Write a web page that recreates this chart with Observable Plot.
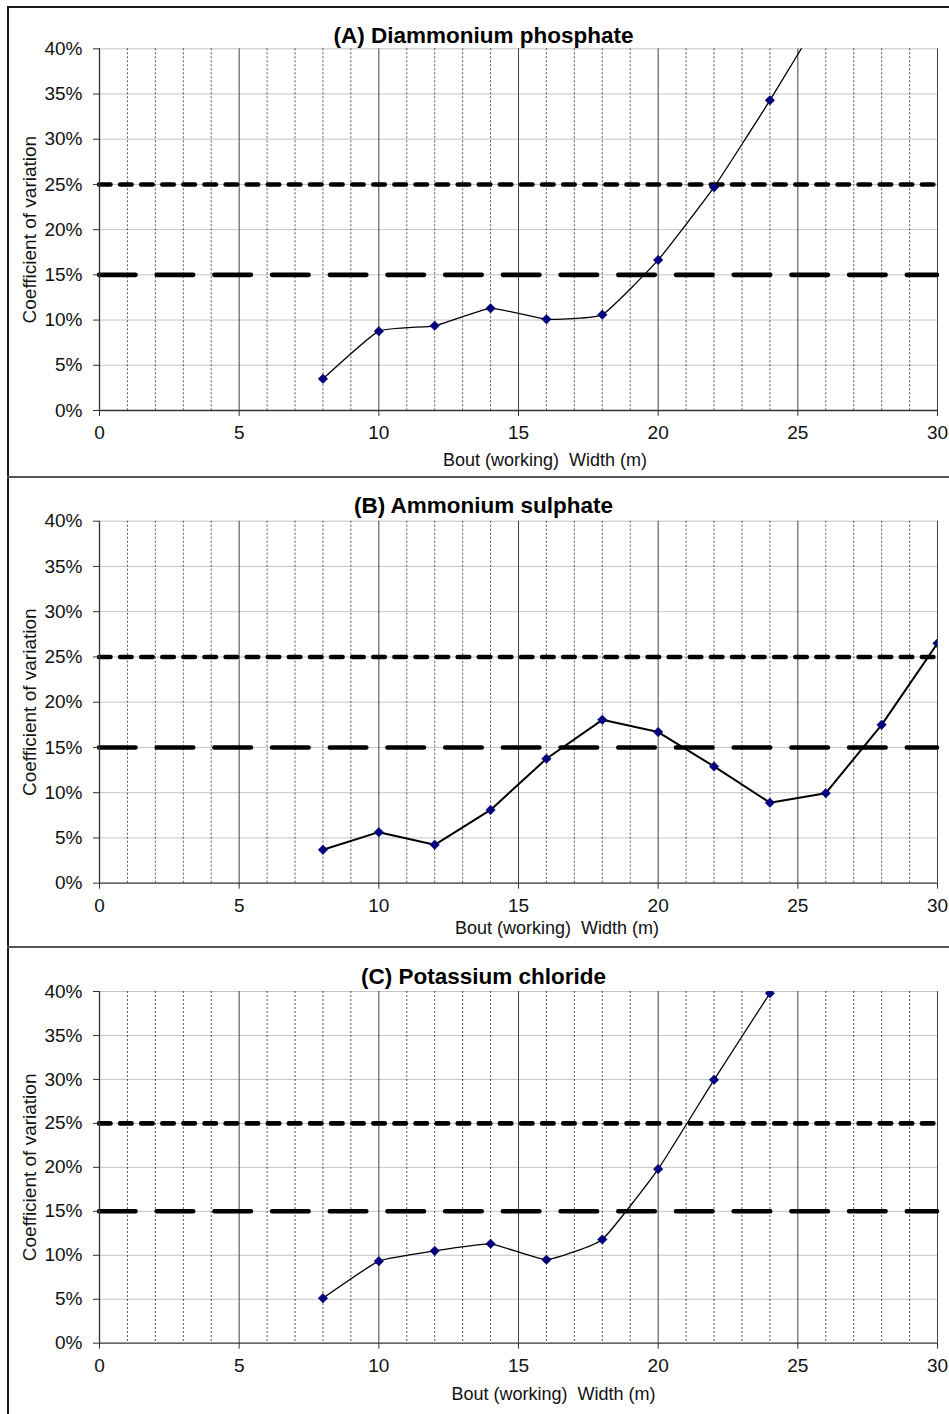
<!DOCTYPE html>
<html>
<head>
<meta charset="utf-8">
<script src="https://cdn.jsdelivr.net/npm/d3@7"></script>
<script src="https://cdn.jsdelivr.net/npm/@observablehq/plot@0.6"></script>
<style>
  html, body { margin: 0; padding: 0; background: #fff; }
  #page { position: relative; width: 949px; height: 1414px; overflow: hidden; background: #fff; font-family: "Liberation Sans", Arial, sans-serif; }
  .panel { position: absolute; left: 0; }
  .border { position: absolute; }
</style>
</head>
<body>
<div id="page"></div>
<script>
// ---- data ----
const widthsA = [8, 10, 12, 14, 16, 18, 20, 22, 24, 26];
const cvA     = [0.035, 0.0877, 0.0937, 0.113, 0.101, 0.106, 0.1665, 0.247, 0.343, 0.445];
const widthsB = [8, 10, 12, 14, 16, 18, 20, 22, 24, 26, 28, 30];
const cvB     = [0.037, 0.0564, 0.0424, 0.081, 0.1375, 0.1805, 0.167, 0.129, 0.089, 0.0995, 0.175, 0.265];
const widthsC = [8, 10, 12, 14, 16, 18, 20, 22, 24];
const cvC     = [0.0512, 0.0933, 0.105, 0.113, 0.095, 0.118, 0.198, 0.2996, 0.398];

const titles = ["(A) Diammonium phosphate", "(B) Ammonium sulphate", "(C) Potassium chloride"];
const xLabel = "Bout (working)  Width (m)";
const yLabel = "Coefficient of variation";
const xTicks = [0, 5, 10, 15, 20, 25, 30];
const xMinor = [1, 2, 3, 4, 6, 7, 8, 9, 11, 12, 13, 14, 16, 17, 18, 19, 21, 22, 23, 24, 26, 27, 28, 29];
const yTicks = [0, 0.05, 0.10, 0.15, 0.20, 0.25, 0.30, 0.35, 0.40];
const thresholds = [0.15, 0.25];

const page = document.getElementById("page");
const FONT = "'Liberation Sans', Arial, sans-serif";

function panel(cfg) {
  const data = cfg.x.map((x, i) => ({x, y: cfg.y[i]}));
  const svg = Plot.plot({
    width: 949,
    height: cfg.height,
    marginLeft: 99,
    marginRight: 12,
    marginTop: cfg.mt,
    marginBottom: cfg.mb,
    style: {fontFamily: FONT, fontSize: "19px", color: "#111", background: "transparent", overflow: "visible"},
    x: {domain: [0, 30], ticks: xTicks},
    y: {domain: [0, 0.4], ticks: yTicks, tickFormat: d3.format(".0%")},
    marks: [
      Plot.ruleY(yTicks.filter(d => d > 0), {stroke: "#c4c4c4", strokeWidth: 1}),
      Plot.ruleX(xMinor, {stroke: "#2a2a2a", strokeWidth: 0.8, strokeDasharray: "2,2"}),
      Plot.ruleX(xTicks.filter(d => d > 0), {stroke: "#444", strokeWidth: 1}),
      Plot.ruleY([thresholds[1]], {stroke: "#000", strokeWidth: 4.6, strokeDasharray: "11.5,9.6", strokeLinecap: "round"}),
      Plot.ruleY([thresholds[0]], {stroke: "#000", strokeWidth: 4.6, strokeDasharray: "36.5,21.2", strokeLinecap: "round"}),
      Plot.axisX({ticks: xTicks, tickSize: 6, tickPadding: 9, label: null, stroke: "#333", fill: "#111"}),
      Plot.axisY({ticks: yTicks, tickSize: 6, tickPadding: 11, tickFormat: d3.format(".0%"), label: null, stroke: "#333", fill: "#111"}),
      Plot.ruleX([0], {stroke: "#333", strokeWidth: 1.3}),
      Plot.ruleY([0], {stroke: "#333", strokeWidth: 1.3}),
      Plot.line(data, {x: "x", y: "y", stroke: "#000", strokeWidth: cfg.lw, curve: cfg.curve, tension: 0.6, clip: true}),
      Plot.dot(data, {x: "x", y: "y", symbol: "square", rotate: 45, r: 3.8, fill: "#000080", stroke: "#000060", strokeWidth: 0.5, clip: true}),
      Plot.text([cfg.title], {frameAnchor: "top", dx: -35, dy: cfg.tdy, lineAnchor: "middle", fontSize: 22.5, fontWeight: "bold", fill: "#000"}),
      Plot.text([xLabel], {frameAnchor: "bottom", dx: cfg.xdx, dy: cfg.xdy, lineAnchor: "middle", fontSize: 18, fill: "#111"}),
      Plot.text([yLabel], {frameAnchor: "left", dx: -69.5, rotate: -90, lineAnchor: "middle", textAnchor: "middle", fontSize: 19, fill: "#111"})
    ]
  });
  svg.classList.add("panel");
  svg.style.top = cfg.top + "px";
  page.appendChild(svg);
}

panel({x: widthsA, y: cvA, title: titles[0], top: 6, height: 470, mt: 42.3, mb: 66, lw: 1.3, curve: "cardinal", tdy: -13.3, xdx: 26.5, xdy: 50});
panel({x: widthsB, y: cvB, title: titles[1], top: 477, height: 470, mt: 43.7, mb: 64.3, lw: 2, curve: "linear", tdy: -15.7, xdx: 38.5, xdy: 45.5});
panel({x: widthsC, y: cvC, title: titles[2], top: 948, height: 466, mt: 43, mb: 71.3, lw: 1.3, curve: "cardinal", tdy: -14.3, xdx: 35, xdy: 51.3});

// panel frame lines
function line(css) {
  const d = document.createElement("div");
  d.className = "border";
  Object.assign(d.style, css);
  page.appendChild(d);
}
line({left: "7px", top: "6px", width: "942px", height: "2px", background: "#1a1a1a"});
line({left: "7px", top: "6px", width: "2px", height: "1408px", background: "#1a1a1a"});
line({left: "7px", top: "476px", width: "942px", height: "2px", background: "#555"});
line({left: "7px", top: "946px", width: "942px", height: "2px", background: "#555"});
</script>
</body>
</html>
